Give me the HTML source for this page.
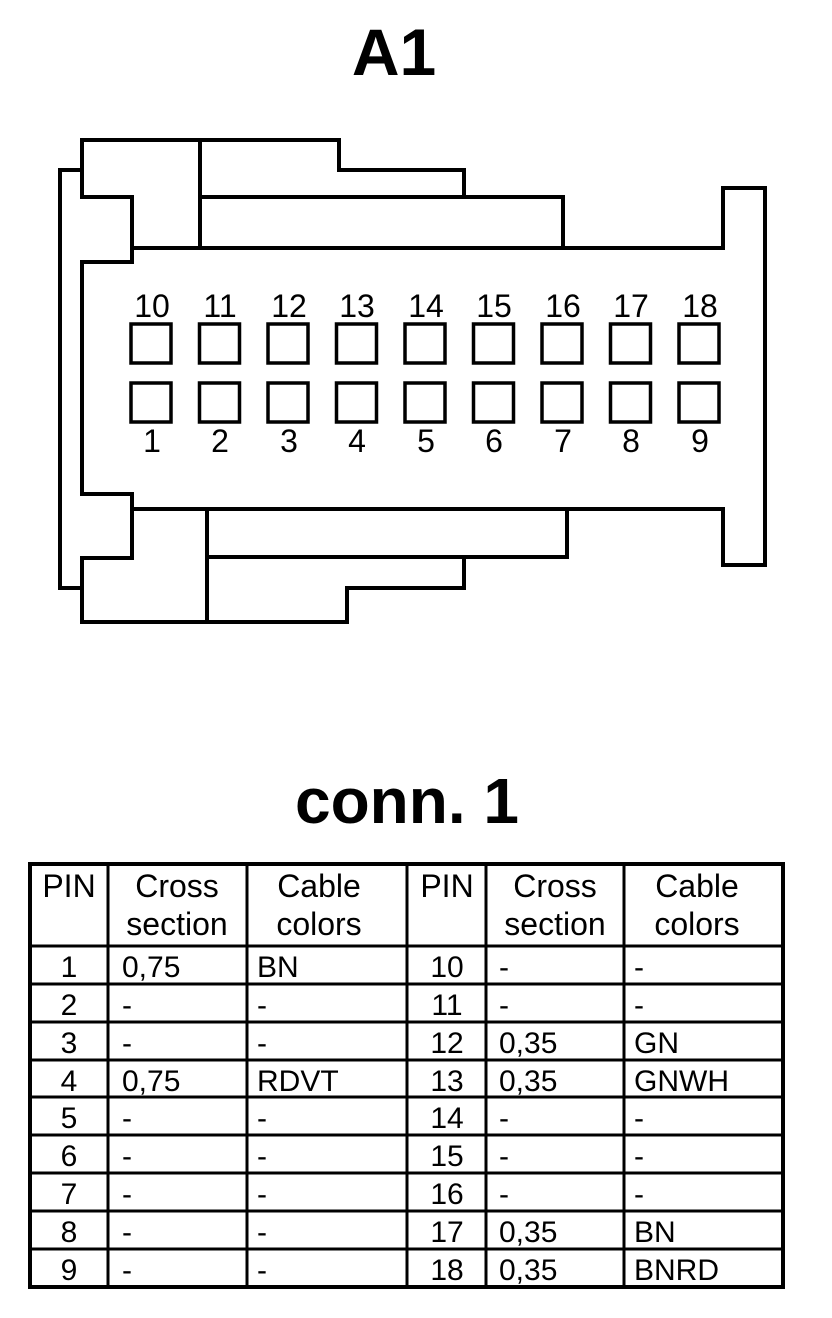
<!DOCTYPE html>
<html><head><meta charset="utf-8"><style>
html,body{margin:0;padding:0;background:#fff;}
svg{display:block;}
text{font-family:"Liberation Sans",Arial,sans-serif;fill:#000;}
</style></head><body>
<svg width="832" height="1318" viewBox="0 0 832 1318" xmlns="http://www.w3.org/2000/svg">
<text x="394" y="75" font-size="66" font-weight="bold" text-anchor="middle">A1</text>
<g fill="none" stroke="#000" stroke-width="4" stroke-linejoin="miter">
<path d="M82 170 H60 V588 H82"/>
<path d="M82 140 H339 V170 H464 V197 H563 V248 H723 V188 H765 V565 H723 V509 H567 V557 H464 V588 H347 V622 H82 V558 H132 V494 H82 V262 H132 V197 H82 Z"/>
<path d="M200 140 V248 M200 197 H563 M132 248 H563"/>
<path d="M132 509 H567 M207 509 V622 M207 557 H464"/>
</g>
<g fill="none" stroke="#000" stroke-width="3.5">
<rect x="131" y="324" width="40" height="39"/><rect x="199.5" y="324" width="40" height="39"/><rect x="268" y="324" width="40" height="39"/><rect x="336.5" y="324" width="40" height="39"/><rect x="405" y="324" width="40" height="39"/><rect x="473.5" y="324" width="40" height="39"/><rect x="542" y="324" width="40" height="39"/><rect x="610.5" y="324" width="40" height="39"/><rect x="679" y="324" width="40" height="39"/>
<rect x="131" y="383" width="40" height="39"/><rect x="199.5" y="383" width="40" height="39"/><rect x="268" y="383" width="40" height="39"/><rect x="336.5" y="383" width="40" height="39"/><rect x="405" y="383" width="40" height="39"/><rect x="473.5" y="383" width="40" height="39"/><rect x="542" y="383" width="40" height="39"/><rect x="610.5" y="383" width="40" height="39"/><rect x="679" y="383" width="40" height="39"/>
</g>
<g font-size="32" text-anchor="middle">
<text x="152" y="317">10</text><text x="220" y="317">11</text><text x="289" y="317">12</text><text x="357" y="317">13</text><text x="426" y="317">14</text><text x="494" y="317">15</text><text x="563" y="317">16</text><text x="631" y="317">17</text><text x="700" y="317">18</text>
<text x="152" y="452">1</text><text x="220" y="452">2</text><text x="289" y="452">3</text><text x="357" y="452">4</text><text x="426" y="452">5</text><text x="494" y="452">6</text><text x="563" y="452">7</text><text x="631" y="452">8</text><text x="700" y="452">9</text>
</g>
<text x="407" y="823" font-size="64" font-weight="bold" text-anchor="middle">conn. 1</text>
<g stroke="#000" stroke-width="3" fill="none">
<rect x="30" y="864" width="753" height="423" stroke-width="4"/>
<path d="M108 864 V1287 M247 864 V1287 M407 864 V1287 M486 864 V1287 M624 864 V1287"/>
<path d="M30 946 H783 M30 984 H783 M30 1022 H783 M30 1060 H783 M30 1097 H783 M30 1135 H783 M30 1173 H783 M30 1211 H783 M30 1249 H783"/>
</g>
<g font-size="32">
<text x="69" y="897" text-anchor="middle">PIN</text>
<text x="177" y="897" text-anchor="middle">Cross</text><text x="177" y="935" text-anchor="middle">section</text>
<text x="319" y="897" text-anchor="middle">Cable</text><text x="319" y="935" text-anchor="middle">colors</text>
<text x="447" y="897" text-anchor="middle">PIN</text>
<text x="555" y="897" text-anchor="middle">Cross</text><text x="555" y="935" text-anchor="middle">section</text>
<text x="697" y="897" text-anchor="middle">Cable</text><text x="697" y="935" text-anchor="middle">colors</text>
</g>
<g font-size="30">
<g text-anchor="middle">
<text x="69" y="977">1</text><text x="69" y="1015">2</text><text x="69" y="1053">3</text><text x="69" y="1091">4</text><text x="69" y="1128">5</text><text x="69" y="1166">6</text><text x="69" y="1204">7</text><text x="69" y="1242">8</text><text x="69" y="1280">9</text>
<text x="447" y="977">10</text><text x="447" y="1015">11</text><text x="447" y="1053">12</text><text x="447" y="1091">13</text><text x="447" y="1128">14</text><text x="447" y="1166">15</text><text x="447" y="1204">16</text><text x="447" y="1242">17</text><text x="447" y="1280">18</text>
</g>
<text x="122" y="977">0,75</text><text x="122" y="1015">-</text><text x="122" y="1053">-</text><text x="122" y="1091">0,75</text><text x="122" y="1128">-</text><text x="122" y="1166">-</text><text x="122" y="1204">-</text><text x="122" y="1242">-</text><text x="122" y="1280">-</text>
<text x="257" y="977">BN</text><text x="257" y="1015">-</text><text x="257" y="1053">-</text><text x="257" y="1091">RDVT</text><text x="257" y="1128">-</text><text x="257" y="1166">-</text><text x="257" y="1204">-</text><text x="257" y="1242">-</text><text x="257" y="1280">-</text>
<text x="499" y="977">-</text><text x="499" y="1015">-</text><text x="499" y="1053">0,35</text><text x="499" y="1091">0,35</text><text x="499" y="1128">-</text><text x="499" y="1166">-</text><text x="499" y="1204">-</text><text x="499" y="1242">0,35</text><text x="499" y="1280">0,35</text>
<text x="634" y="977">-</text><text x="634" y="1015">-</text><text x="634" y="1053">GN</text><text x="634" y="1091">GNWH</text><text x="634" y="1128">-</text><text x="634" y="1166">-</text><text x="634" y="1204">-</text><text x="634" y="1242">BN</text><text x="634" y="1280">BNRD</text>
</g>
</svg>
</body></html>
